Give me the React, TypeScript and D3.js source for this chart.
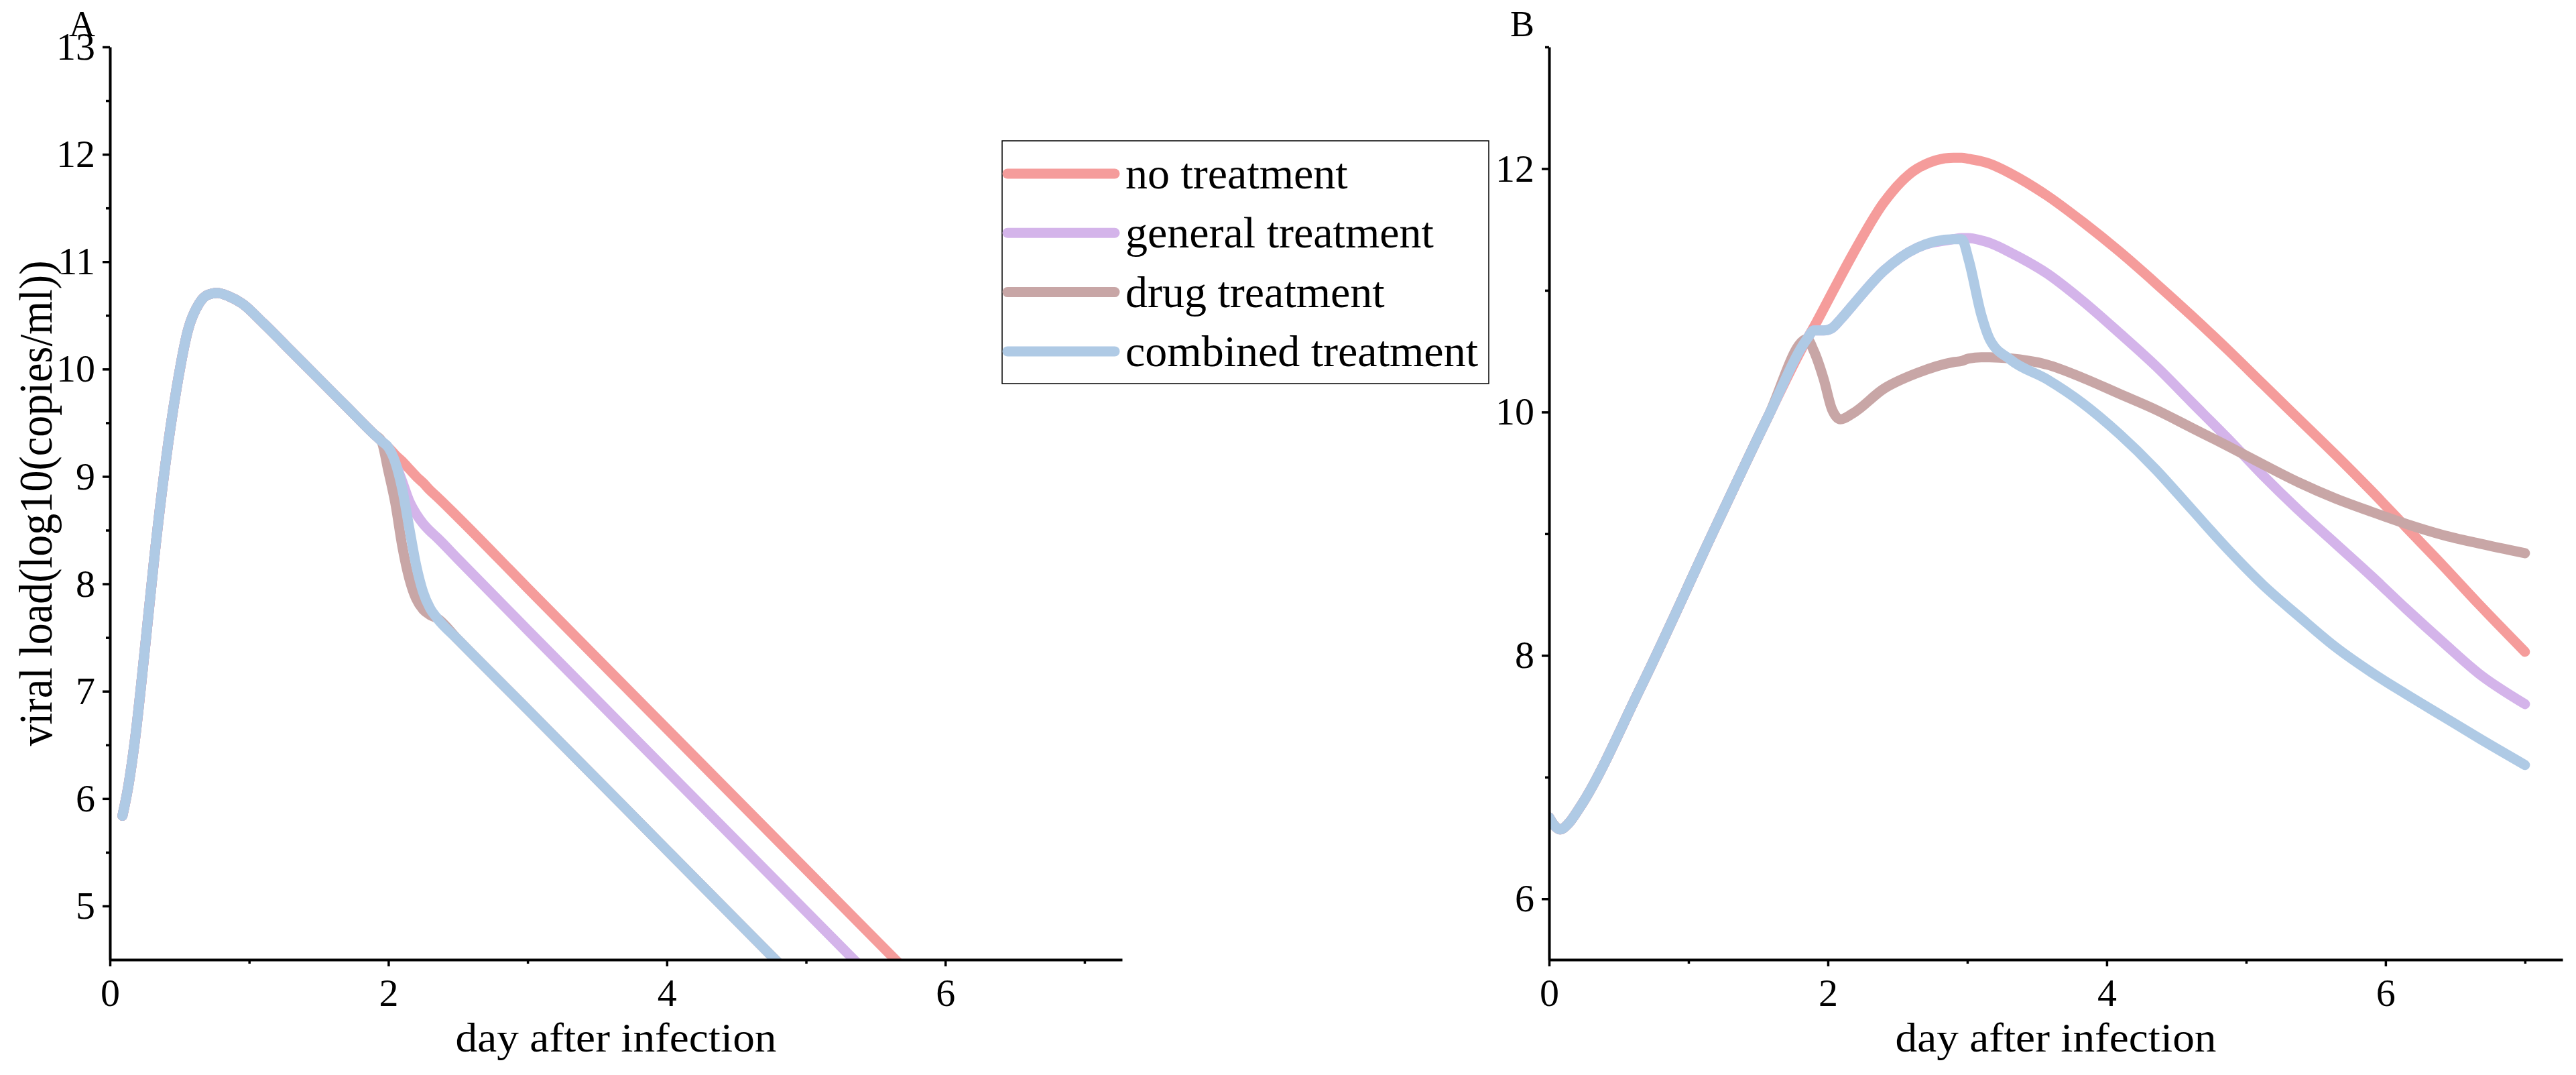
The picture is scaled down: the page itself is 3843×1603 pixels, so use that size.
import React, { useEffect, useRef } from 'react';
import * as d3 from 'd3';

const seriesNames = ['no treatment', 'general treatment', 'drug treatment', 'combined treatment'];
const seriesColors = ['#F59C9B', '#D4B4EA', '#C8A6A6', '#AFCAE5'];

// panel A: shared early course, then each treatment branches near day 2
const daysA = [0.09, 0.13, 0.18, 0.25, 0.32, 0.4, 0.48, 0.56, 0.64, 0.7, 0.77, 0.85, 0.95, 1.1, 1.3, 1.5, 1.7, 1.9, 1.95,
  2.0, 2.05, 2.1, 2.15, 2.2, 2.25, 2.3, 2.35, 2.5, 3, 4, 5, 6];
const commonA = [5.84, 6.1, 6.55, 7.38, 8.26, 9.13, 9.83, 10.36, 10.61, 10.69, 10.71, 10.68, 10.61, 10.43, 10.17,
  9.91, 9.65, 9.39, 9.33];
const noA = [...commonA, 9.27, 9.2, 9.14, 9.07, 9.0, 8.94, 8.87, 8.81, 8.62, 7.96, 6.65, 5.34, 4.03];
const generalA = [...commonA, 9.25, 9.12, 8.95, 8.77, 8.65, 8.56, 8.49, 8.43, 8.23, 7.57, 6.26, 4.95, 3.64];
const drugA = [...commonA, 9.05, 8.75, 8.35, 8.05, 7.86, 7.76, 7.71, 7.68, 7.48, 6.83, 5.52, 4.21, 2.9];
const combinedA = [...commonA, 9.27, 9.13, 8.88, 8.52, 8.17, 7.92, 7.77, 7.68, 7.48, 6.83, 5.52, 4.21, 2.9];

// panel B
const daysB = [0, 0.04, 0.08, 0.14, 0.22, 0.65, 1.2, 1.57, 1.85,
  1.9, 1.97, 2.03, 2.09, 2.18, 2.4, 2.64, 2.9, 2.96, 3.01, 3.1, 3.16, 3.31, 3.57, 3.83, 4.09, 4.35, 4.61, 4.87,
  5.12, 5.38, 5.64, 5.9, 6.15, 6.41, 6.67, 7];
const commonB = [6.67, 6.6, 6.57, 6.62, 6.75, 7.72, 9.07, 9.96, 10.6];
const noB = [...commonB, 10.7, 10.85, 10.98, 11.11, 11.3, 11.72, 12.0, 12.09, 12.09, 12.08, 12.06, 12.04, 11.96,
  11.78, 11.56, 11.32, 11.06, 10.79, 10.51, 10.23, 9.94, 9.65, 9.35, 9.05, 8.74, 8.42, 8.03];
const generalB = [...commonB, 10.67, 10.67, 10.69, 10.76, 10.88, 11.16, 11.35, 11.42, 11.43, 11.43, 11.41, 11.39,
  11.31, 11.14, 10.91, 10.65, 10.38, 10.08, 9.78, 9.48, 9.19, 8.92, 8.65, 8.38, 8.11, 7.85, 7.6];
const drugB = [...commonB, 10.5, 10.27, 10.02, 9.94, 9.99, 10.19, 10.32, 10.41, 10.42, 10.44, 10.45, 10.45, 10.44,
  10.39, 10.28, 10.15, 10.02, 9.87, 9.72, 9.57, 9.42, 9.29, 9.18, 9.08, 8.99, 8.92, 8.84];
const combinedB = [...commonB, 10.67, 10.67, 10.69, 10.76, 10.88, 11.16, 11.35, 11.42, 11.42, 11.25, 10.8, 10.6,
  10.43, 10.27, 10.07, 9.82, 9.53, 9.2, 8.87, 8.58, 8.32, 8.07, 7.86, 7.68, 7.5, 7.32, 7.1];

const xMajor = [0, 2, 4, 6];
const xMinor = [1, 3, 5, 7];
const yMajorA = [5, 6, 7, 8, 9, 10, 11, 12, 13];
const yMinorA = [5.5, 6.5, 7.5, 8.5, 9.5, 10.5, 11.5, 12.5];
const yMajorB = [6, 8, 10, 12];
const yMinorB = [7, 9, 11, 13];

const W = 3843;
const H = 1603;
const FONT = "'Liberation Serif', 'Times New Roman', serif";

const App: React.FC = () => {
  const ref = useRef<SVGSVGElement | null>(null);

  useEffect(() => {
    document.body.style.margin = '0';
    const svg = d3.select(ref.current);
    svg.selectAll('*').remove();

    const top = 70;
    const bottom = 1431;

    const panels = [
      { id: 'A', left: 164, right: 1674, yDomain: [4.5, 13], days: daysA,
        series: [noA, generalA, drugA, combinedA], yMajor: yMajorA, yMinor: yMinorA },
      { id: 'B', left: 2311, right: 3823, yDomain: [5.5, 13], days: daysB,
        series: [noB, generalB, drugB, combinedB], yMajor: yMajorB, yMinor: yMinorB },
    ];

    const defs = svg.append('defs');

    panels.forEach((p) => {
      const x = d3.scaleLinear().domain([0, 7.27]).range([p.left, p.right]);
      const y = d3.scaleLinear().domain(p.yDomain).range([bottom, top]);

      defs.append('clipPath').attr('id', 'clip' + p.id)
        .append('rect')
        .attr('x', p.left).attr('y', top)
        .attr('width', p.right - p.left).attr('height', bottom - top);

      const line = d3.line<[number, number]>()
        .x((d) => x(d[0]))
        .y((d) => y(d[1]))
        .curve(d3.curveMonotoneX);

      const lines = svg.append('g').attr('clip-path', `url(#clip${p.id})`);
      p.series.forEach((vals, i) => {
        lines.append('path')
          .datum(p.days.map((d, j) => [d, vals[j]] as [number, number]))
          .attr('d', line)
          .attr('fill', 'none')
          .attr('stroke', seriesColors[i])
          .attr('stroke-width', 15)
          .attr('stroke-linecap', 'round')
          .attr('stroke-linejoin', 'round');
      });

      // y axis
      const gy = svg.append('g')
        .attr('transform', `translate(${p.left},0)`)
        .call(d3.axisLeft(y).tickValues(p.yMajor).tickSize(11).tickPadding(11).tickSizeOuter(0)
          .tickFormat(d3.format('d')));
      const gyMinor = svg.append('g')
        .attr('transform', `translate(${p.left},0)`)
        .call(d3.axisLeft(y).tickValues(p.yMinor).tickSize(6).tickFormat(() => ''));
      gyMinor.select('.domain').remove();

      // x axis
      const gx = svg.append('g')
        .attr('transform', `translate(0,${bottom})`)
        .call(d3.axisBottom(x).tickValues(xMajor).tickSize(10).tickPadding(18).tickSizeOuter(0)
          .tickFormat(d3.format('d')));
      const gxMinor = svg.append('g')
        .attr('transform', `translate(0,${bottom})`)
        .call(d3.axisBottom(x).tickValues(xMinor).tickSize(6).tickFormat(() => ''));
      gxMinor.select('.domain').remove();

      [gy, gx, gyMinor, gxMinor].forEach((g) => {
        g.select('.domain').attr('stroke', '#000').attr('stroke-width', 4);
        g.selectAll('.tick line').attr('stroke', '#000').attr('stroke-width', 3.5);
        g.selectAll('.tick text')
          .attr('font-family', FONT)
          .attr('font-size', 58)
          .attr('fill', '#000');
      });

      // x label
      svg.append('text')
        .attr('x', (p.left + p.right) / 2)
        .attr('y', 1568)
        .attr('text-anchor', 'middle')
        .attr('font-family', FONT)
        .attr('font-size', 62)
        .attr('textLength', 479)
        .attr('lengthAdjust', 'spacingAndGlyphs')
        .text('day after infection');

      // panel letter
      svg.append('text')
        .attr('x', p.left - 22)
        .attr('y', 54)
        .attr('text-anchor', 'end')
        .attr('font-family', FONT)
        .attr('font-size', 54)
        .text(p.id);
    });

    // y label (panel A only)
    svg.append('text')
      .attr('transform', `translate(77,${(top + bottom) / 2}) rotate(-90)`)
      .attr('text-anchor', 'middle')
      .attr('font-family', FONT)
      .attr('font-size', 70)
      .attr('textLength', 724)
      .attr('lengthAdjust', 'spacingAndGlyphs')
      .text('viral load(log10(copies/ml))');

    // legend
    const legend = svg.append('g').attr('transform', 'translate(1495,210)');
    legend.append('rect')
      .attr('width', 726).attr('height', 362)
      .attr('fill', '#fff').attr('stroke', '#000').attr('stroke-width', 1.5);
    seriesNames.forEach((name, i) => {
      const ly = 49 + i * 88.3;
      legend.append('line')
        .attr('x1', 8).attr('x2', 168)
        .attr('y1', ly).attr('y2', ly)
        .attr('stroke', seriesColors[i])
        .attr('stroke-width', 15)
        .attr('stroke-linecap', 'round');
      legend.append('text')
        .attr('x', 184)
        .attr('y', ly + 22)
        .attr('font-family', FONT)
        .attr('font-size', 66)
        .text(name);
    });
  }, []);

  return <svg ref={ref} width={W} height={H} style={{ display: 'block', background: '#fff' }} />;
};

export default App;
